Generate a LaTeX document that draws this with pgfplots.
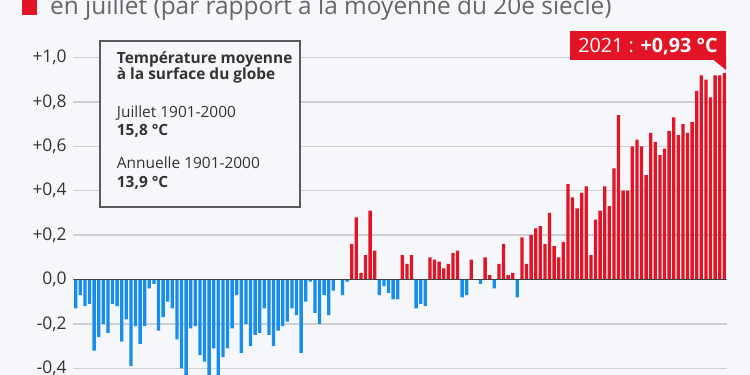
\documentclass[border=0pt]{standalone}
\usepackage{fontspec}
\setmainfont{Open Sans}
\usepackage{pgfplots}
\pgfplotsset{compat=1.18}
\usepackage{pgfplotstable}
\definecolor{bg}{RGB}{245,247,250}
\definecolor{sred}{RGB}{226,20,38}
\definecolor{sblue}{RGB}{24,142,236}
\definecolor{gridc}{RGB}{205,207,212}
\definecolor{txt}{RGB}{51,51,51}

\pgfplotstableread{
year v
1880 -0.13
1881 -0.07
1882 -0.12
1883 -0.11
1884 -0.32
1885 -0.26
1886 -0.20
1887 -0.24
1888 -0.11
1889 -0.12
1890 -0.28
1891 -0.18
1892 -0.39
1893 -0.21
1894 -0.29
1895 -0.21
1896 -0.04
1897 -0.02
1898 -0.23
1899 -0.17
1900 -0.10
1901 -0.13
1902 -0.27
1903 -0.40
1904 -0.46
1905 -0.22
1906 -0.21
1907 -0.34
1908 -0.37
1909 -0.47
1910 -0.31
1911 -0.46
1912 -0.35
1913 -0.31
1914 -0.22
1915 -0.07
1916 -0.33
1917 -0.20
1918 -0.30
1919 -0.25
1920 -0.24
1921 -0.13
1922 -0.25
1923 -0.30
1924 -0.23
1925 -0.21
1926 -0.19
1927 -0.13
1928 -0.16
1929 -0.33
1930 -0.10
1931 -0.01
1932 -0.15
1933 -0.20
1934 -0.07
1935 -0.16
1936 -0.05
1937 0.00
1938 -0.07
1939 -0.01
1940 0.16
1941 0.28
1942 0.03
1943 0.11
1944 0.31
1945 0.13
1946 -0.07
1947 -0.03
1948 -0.06
1949 -0.09
1950 -0.09
1951 0.11
1952 0.07
1953 0.11
1954 -0.13
1955 -0.11
1956 -0.12
1957 0.10
1958 0.09
1959 0.08
1960 0.05
1961 0.07
1962 0.12
1963 0.13
1964 -0.08
1965 -0.07
1966 0.09
1967 0.00
1968 -0.02
1969 0.10
1970 0.02
1971 -0.04
1972 0.07
1973 0.16
1974 0.02
1975 0.03
1976 -0.08
1977 0.19
1978 0.07
1979 0.20
1980 0.23
1981 0.24
1982 0.16
1983 0.30
1984 0.15
1985 0.10
1986 0.17
1987 0.43
1988 0.37
1989 0.32
1990 0.39
1991 0.42
1992 0.11
1993 0.27
1994 0.31
1995 0.42
1996 0.33
1997 0.50
1998 0.74
1999 0.40
2000 0.40
2001 0.60
2002 0.63
2003 0.60
2004 0.47
2005 0.66
2006 0.62
2007 0.56
2008 0.59
2009 0.67
2010 0.73
2011 0.65
2012 0.70
2013 0.66
2014 0.71
2015 0.85
2016 0.92
2017 0.90
2018 0.82
2019 0.92
2020 0.92
2021 0.93
}\anomaly

\begin{document}
\begin{tikzpicture}
\path[use as bounding box] (0bp,0bp) rectangle (750bp,375bp);
\fill[bg] (0bp,0bp) rectangle (750bp,375bp);
\begin{scope}
\clip (0bp,0bp) rectangle (750bp,375bp);
\begin{axis}[
  at={(73.4bp,0bp)}, anchor=south west,
  scale only axis, width=653.2bp, height=375bp,
  xmin=1879.5, xmax=2021.5, ymin=-0.4302, ymax=1.259,
  axis line style={draw=none},
  xtick=\empty,
  ytick={-0.4,-0.2,0,0.2,0.4,0.6,0.8,1.0},
  yticklabels={-0{,}4,-0{,}2,0{,}0,+0{,}2,+0{,}4,+0{,}6,+0{,}8,+1{,}0},
  yticklabel style={font=\fontsize{17.5}{18}\selectfont, text=txt, anchor=east, inner sep=0pt, xshift=-6.5bp},
  major tick length=0pt,
  ymajorgrids, grid style={gridc, line width=1.3bp},
  ybar, bar width=3.3bp,
]
\addplot[draw=none, fill=sred, bar shift=0pt, restrict y to domain=0:5] table[x=year,y=v] {\anomaly};
\addplot[draw=none, fill=sblue, bar shift=0pt, restrict y to domain=-5:-0.001] table[x=year,y=v] {\anomaly};
\draw[black!75, line width=1.3bp] (axis cs:1879.5,0) -- (axis cs:2021.5,0);
\end{axis}

% title (cut at top)
\fill[sred] (22bp,360bp) rectangle (37bp,375bp);
\node[anchor=base west, inner sep=0pt, text=black!60, font=\fontsize{24.5}{26}\selectfont] at (50bp,360bp) {en juillet (par rapport à la moyenne du 20e siècle)};

% info box
\filldraw[fill=bg, draw=black!65, line width=1.2bp] (100bp,168bp) rectangle (300bp,334bp);
\begin{scope}[every node/.style={anchor=base west, inner sep=0pt, text=txt, font=\fontsize{15.5}{16}\selectfont}]
\node at (116.7bp,311.7bp) {\bfseries Température moyenne};
\node at (116.7bp,295.7bp) {\bfseries à la surface du globe};
\node at (116.7bp,257.7bp) {Juillet 1901-2000};
\node at (116.7bp,239bp) {\bfseries 15,8 °C};
\node at (116.7bp,206.7bp) {Annuelle 1901-2000};
\node at (116.7bp,187.3bp) {\bfseries 13,9 °C};
\end{scope}

% callout
\fill[sred] (570bp,315bp) rectangle (726bp,344bp);
\fill[sred] (713bp,315.5bp) -- (726bp,315.5bp) -- (726bp,305bp) -- cycle;
\node[text=white, inner sep=0pt, anchor=base, font=\fontsize{19.8}{20}\selectfont] at (648bp,322.5bp) {2021 : \textbf{+0,93 °C}};
\end{scope}
\end{tikzpicture}
\end{document}
